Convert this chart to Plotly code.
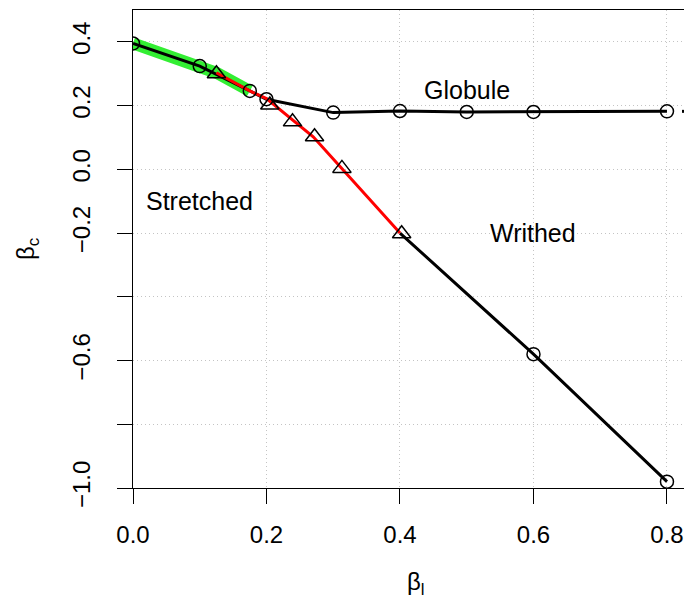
import plotly.graph_objects as go

# Data
circ_x = [0.0, 0.1, 0.175, 0.2, 0.3, 0.4, 0.5, 0.6, 0.8]
circ_y = [0.395, 0.324, 0.246, 0.22, 0.178, 0.183, 0.18, 0.18, 0.182]
low_x = [0.4, 0.6, 0.8]
low_y = [-0.2, -0.58, -0.98]
low_circ_x = [0.6, 0.8]
low_circ_y = [-0.58, -0.98]
tri_x = [0.125, 0.205, 0.239, 0.272, 0.313, 0.4025]
tri_y = [0.300, 0.202, 0.149, 0.102, 0.003, -0.202]
red_x = [0.125, 0.175, 0.2, 0.27, 0.4]
red_y = [0.303, 0.246, 0.222, 0.102, -0.2]
green_x = [0.0, 0.1, 0.125, 0.175]
green_y = [0.395, 0.324, 0.303, 0.246]
tail_x = [0.8225, 0.9]
tail_y = [0.182, 0.182]

x_ticks = [0.0, 0.2, 0.4, 0.6, 0.8]
x_ticktext = ["0.0", "0.2", "0.4", "0.6", "0.8"]
y_ticks = [-1.0, -0.6, -0.2, 0.0, 0.2, 0.4]
y_ticktext = ["\u22121.0", "\u22120.6", "\u22120.2", "0.0", "0.2", "0.4"]
y_minor_ticks = [-0.8, -0.4]

region_labels = ["Globule", "Stretched", "Writhed"]
region_x = [0.5, 0.1, 0.6]
region_y = [0.25, -0.1, -0.2]

FONT = "Liberation Sans, Arial, sans-serif"
GRID = "#c4c4c4"

# page body has an 8px margin, so the figure is sized to fit the window
W, H = 684, 595
ML, MT, MB = 125, 2, 115
PW = W - ML
PH = H - MT - MB

fig = go.Figure()
fig.add_trace(go.Scatter(x=green_x, y=green_y, mode="lines",
                         line=dict(color="#33ee33", width=12), hoverinfo="skip"))
fig.add_trace(go.Scatter(x=circ_x, y=circ_y, mode="lines",
                         line=dict(color="black", width=3)))
fig.add_trace(go.Scatter(x=low_x, y=low_y, mode="lines",
                         line=dict(color="black", width=3)))
fig.add_trace(go.Scatter(x=tail_x, y=tail_y, mode="lines",
                         line=dict(color="black", width=3, dash="10px,10px")))
fig.add_trace(go.Scatter(x=red_x, y=red_y, mode="lines",
                         line=dict(color="#ff0000", width=3)))
fig.add_trace(go.Scatter(x=circ_x + low_circ_x, y=circ_y + low_circ_y, mode="markers",
                         marker=dict(symbol="circle-open", size=13,
                                     line=dict(color="black", width=1.5), color="black")))
fig.add_trace(go.Scatter(x=tri_x, y=tri_y, mode="markers",
                         marker=dict(symbol="triangle-up-open", size=16,
                                     line=dict(color="black", width=1.5), color="black")))

for t, x, y in zip(region_labels, region_x, region_y):
    fig.add_annotation(x=x, y=y, xref="x", yref="y", text=t, showarrow=False,
                       font=dict(family=FONT, size=25, color="black"),
                       xanchor="center", yanchor="middle")

# axis titles
fig.add_annotation(x=(408 - ML) / PW, y=-(575 - (H - MB)) / PH, xref="paper", yref="paper",
                   text="\u03b2<sub>l</sub>", showarrow=False,
                   font=dict(family=FONT, size=24, color="black"),
                   xanchor="center", yanchor="middle")
fig.add_annotation(x=-(ML - 19) / PW, y=0.5, xref="paper", yref="paper",
                   text="\u03b2<sub>c</sub>", showarrow=False, textangle=-90,
                   font=dict(family=FONT, size=24, color="black"),
                   xanchor="center", yanchor="middle")

fig.update_layout(
    template="none",
    width=W, height=H,
    margin=dict(l=ML, r=0, t=MT, b=MB, pad=0),
    paper_bgcolor="white", plot_bgcolor="white",
    showlegend=False,
    font=dict(family=FONT, size=24, color="black"),
    xaxis=dict(range=[0, 0.8375], tickvals=x_ticks, ticktext=x_ticktext,
               ticks="outside", ticklen=15, tickwidth=1, tickcolor="black",
               showline=True, linecolor="black", linewidth=1, mirror=True,
               showgrid=True, gridcolor=GRID, griddash="1px,3px", gridwidth=1,
               zeroline=False, ticklabelstandoff=10, automargin=False,
               tickfont=dict(family=FONT, size=24, color="black")),
    yaxis=dict(range=[-1.0, 0.5], tickvals=y_ticks, ticktext=y_ticktext,
               ticks="outside", ticklen=15, tickwidth=1, tickcolor="black",
               showline=True, linecolor="black", linewidth=1,
               showgrid=True, gridcolor=GRID, griddash="1px,3px", gridwidth=1,
               zeroline=False, tickangle=-90, ticklabelstandoff=17, automargin=False,
               tickfont=dict(family=FONT, size=24, color="black"),
               minor=dict(tickvals=y_minor_ticks, ticks="outside", ticklen=15,
                          tickwidth=1, tickcolor="black", showgrid=True,
                          gridcolor=GRID, griddash="1px,3px", gridwidth=1)),
)

fig.write_html("out.html")
